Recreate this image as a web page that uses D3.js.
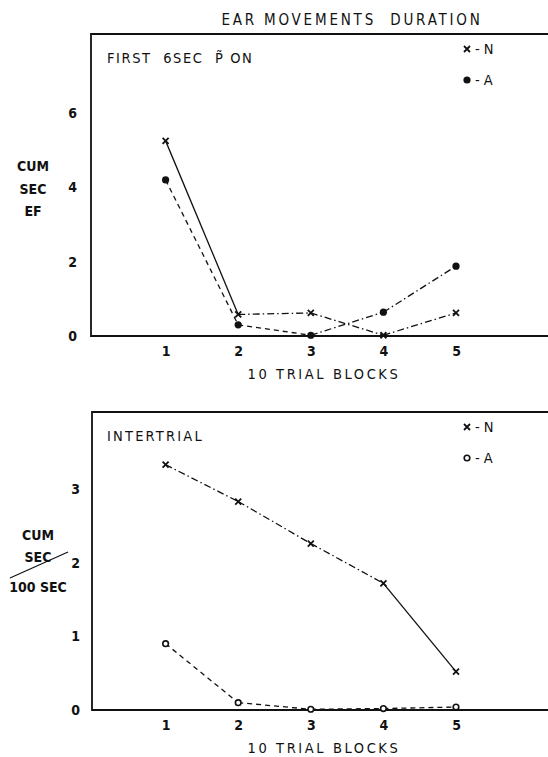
<!DOCTYPE html>
<html>
<head>
<meta charset="utf-8">
<script src="https://cdn.jsdelivr.net/npm/d3@7"></script>
<style>
  body { margin: 0; background: #fff; overflow: hidden; }
  svg { display: block; }
  svg text { font-family: "DejaVu Sans Condensed", "DejaVu Sans", sans-serif; fill: #111; font-weight: bold; }
</style>
</head>
<body>
<div id="graph"></div>
<script>
// data
const blocks = [1, 2, 3, 4, 5];
const firstN = [5.25, 0.58, 0.62, 0.02, 0.62];
const firstA = [4.2, 0.3, 0.02, 0.64, 1.88];
const interN = [3.33, 2.83, 2.26, 1.72, 0.52];
const interA = [0.9, 0.1, 0.01, 0.02, 0.04];
const firstTicks = [0, 2, 4, 6];
const interTicks = [0, 1, 2, 3];

const W = 548, H = 757;
const svg = d3.select("#graph").append("svg")
    .attr("width", W).attr("height", H);

// title
svg.append("text").attr("x", 352).attr("y", 25)
    .attr("text-anchor", "middle").attr("font-size", 15)
    .style("font-weight", "normal")
    .attr("letter-spacing", 2.8).attr("xml:space", "preserve")
    .text("EAR MOVEMENTS  DURATION");

const dashDot = "7,3,1.5,3";
const dashed = "5,4";

function panel(cfg) {
    let x = d3.scaleLinear().domain([0, 5]).range([93, 456]);
    let y = d3.scaleLinear().domain(cfg.ydomain).range([cfg.y0, cfg.yTop]);
    let g = svg.append("g");

    // frame: left, top, bottom
    g.append("path")
        .attr("d", `M${W},${cfg.frameTop}H${cfg.left}V${cfg.y0}H${W}`)
        .attr("fill", "none").attr("stroke", "#111").attr("stroke-width", 1.8);

    // y axis
    let ya = g.append("g").attr("transform", `translate(${cfg.left},0)`)
        .call(d3.axisLeft(y).tickValues(cfg.ticks).tickSize(0).tickPadding(cfg.yPad).tickFormat(d3.format("d")));
    ya.select(".domain").remove();
    ya.selectAll("text").attr("font-size", 14).style("font-family", "\"DejaVu Sans Condensed\", sans-serif").attr("fill", "#111");

    // x axis
    let xa = g.append("g").attr("transform", `translate(0,${cfg.y0})`)
        .call(d3.axisBottom(x).tickValues(blocks).tickSize(0).tickPadding(10).tickFormat(d3.format("d")));
    xa.select(".domain").remove();
    xa.selectAll("text").attr("font-size", 14).style("font-family", "\"DejaVu Sans Condensed\", sans-serif").attr("fill", "#111");

    g.append("text").attr("x", 324).attr("y", cfg.y0 + 43)
        .attr("text-anchor", "middle").attr("font-size", 14.5).attr("letter-spacing", 2.6)
        .style("font-weight", "normal")
        .text("10 TRIAL BLOCKS");

    // panel label
    g.append("text").attr("x", 107).attr("y", cfg.frameTop + 29)
        .attr("font-size", 14.5).attr("letter-spacing", cfg.labelSpacing).attr("xml:space", "preserve")
        .style("font-weight", "normal")
        .text(cfg.label);

    // series lines, segment by segment so each keeps its own stroke
    cfg.series.forEach(s => {
        for (let i = 0; i < blocks.length - 1; i++) {
            g.append("line")
                .attr("x1", x(blocks[i])).attr("y1", y(s.values[i]))
                .attr("x2", x(blocks[i + 1])).attr("y2", y(s.values[i + 1]))
                .attr("stroke", "#111").attr("stroke-width", 1.3)
                .attr("stroke-dasharray", s.dash[i]);
        }
        s.values.forEach((v, i) => marker(g, x(blocks[i]), y(v), s.mark));
    });

    // legend
    cfg.series.forEach((s, i) => {
        let ly = cfg.frameTop + cfg.legendY + i * 31;
        marker(g, 467, ly, s.mark);
        g.append("text").attr("x", 475).attr("y", ly + 5)
            .attr("font-size", 14.5).style("font-weight", "normal").text("- " + s.name);
    });

    // y label
    let lab = g.append("text").attr("text-anchor", "middle").attr("font-size", 14);
    cfg.ylabel.forEach((t, i) => {
        lab.append("tspan").attr("x", cfg.ylabelX).attr("y", cfg.ylabelY[i]).text(t);
    });
}

function marker(g, cx, cy, type) {
    if (type === "x") {
        g.append("path").attr("d", `M${cx - 3},${cy - 3}L${cx + 3},${cy + 3}M${cx - 3},${cy + 3}L${cx + 3},${cy - 3}`)
            .attr("stroke", "#111").attr("stroke-width", 1.8);
    } else if (type === "dot") {
        g.append("circle").attr("cx", cx).attr("cy", cy).attr("r", 3.6).attr("fill", "#111");
    } else {
        g.append("circle").attr("cx", cx).attr("cy", cy).attr("r", 2.8)
            .attr("fill", "#fff").attr("stroke", "#111").attr("stroke-width", 1.6);
    }
}

panel({
    left: 91, frameTop: 34, y0: 336, yTop: 113, ydomain: [0, 6], ticks: firstTicks, yPad: 14,
    label: "FIRST  6SEC  P̃ ON", labelSpacing: 1.6, legendY: 15,
    ylabel: ["CUM", "SEC", "EF"], ylabelX: 33, ylabelY: [171, 194, 216],
    series: [
        { name: "N", values: firstN, mark: "x", dash: ["", dashDot, dashDot, dashDot] },
        { name: "A", values: firstA, mark: "dot", dash: [dashed, dashed, dashDot, dashDot] }
    ]
});

panel({
    left: 92, frameTop: 412, y0: 710, yTop: 489, ydomain: [0, 3], ticks: interTicks, yPad: 12,
    label: "INTERTRIAL", labelSpacing: 2.2, legendY: 15,
    ylabel: ["CUM", "SEC", "100 SEC"], ylabelX: 38, ylabelY: [540, 562, 592],
    series: [
        { name: "N", values: interN, mark: "x", dash: [dashDot, dashDot, dashDot, ""] },
        { name: "A", values: interA, mark: "open", dash: [dashed, dashed, dashed, dashed] }
    ]
});

// slash through the bottom unit label
svg.append("line").attr("x1", 10).attr("y1", 578).attr("x2", 68).attr("y2", 552)
    .attr("stroke", "#111").attr("stroke-width", 1.2);
</script>
</body>
</html>
